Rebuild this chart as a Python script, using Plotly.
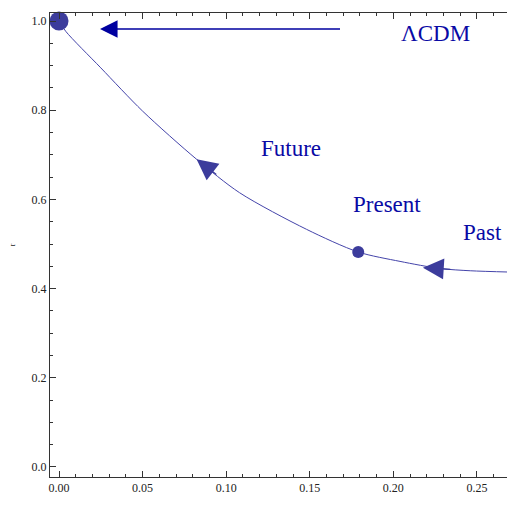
import plotly.graph_objects as go

# trajectory (s, r)
s_vals = [0.0, 0.004, 0.025, 0.05, 0.0823, 0.108, 0.148, 0.179, 0.204, 0.228, 0.246, 0.27]
r_vals = [1.0, 0.977, 0.895, 0.798, 0.690, 0.615, 0.533, 0.482, 0.461, 0.445, 0.440, 0.437]

# special points
lcdm_point = (0.0, 1.0)
present_point = (0.179, 0.482)

# arrow heads along trajectory: (tail_s, tail_r, head_s, head_r)
curve_arrows = [
    (0.095, 0.653, 0.0823, 0.690),
    (0.235, 0.443, 0.2177, 0.447),
]
lcdm_arrow = (0.169, 0.982, 0.0245, 0.982)

labels = [
    ("ΛCDM", 0.225, 0.971),
    ("Future", 0.139, 0.715),
    ("Present", 0.196, 0.589),
    ("Past", 0.2536, 0.526),
]

x_ticks = [0.0, 0.05, 0.10, 0.15, 0.20, 0.25]
y_ticks = [0.0, 0.2, 0.4, 0.6, 0.8, 1.0]

curve_color = "#4444aa"
text_color = "#0a0aa5"

fig = go.Figure()
fig.add_trace(go.Scatter(x=s_vals, y=r_vals, mode="lines",
                         line=dict(color=curve_color, width=1, shape="spline", smoothing=0.8),
                         hoverinfo="skip", showlegend=False))
fig.add_trace(go.Scatter(x=[lcdm_point[0]], y=[lcdm_point[1]], mode="markers",
                         marker=dict(size=19, color="#3c3c9c"), cliponaxis=False, showlegend=False))
fig.add_trace(go.Scatter(x=[present_point[0]], y=[present_point[1]], mode="markers",
                         marker=dict(size=12, color="#3c3c9c"), cliponaxis=False, showlegend=False))

for ts, tr, hs, hr in curve_arrows:
    fig.add_annotation(x=hs, y=hr, ax=ts, ay=tr, xref="x", yref="y", axref="x", ayref="y",
                       showarrow=True, arrowhead=2, arrowsize=3.2, arrowwidth=1.3,
                       arrowcolor="#3c3c9c", text="")
ts, tr, hs, hr = lcdm_arrow
fig.add_annotation(x=hs, y=hr, ax=ts, ay=tr, xref="x", yref="y", axref="x", ayref="y",
                   showarrow=True, arrowhead=2, arrowsize=2.2, arrowwidth=1.6,
                   arrowcolor="#0000a0", text="")

for txt, lx, ly in labels:
    fig.add_annotation(x=lx, y=ly, xref="x", yref="y", text=txt, showarrow=False,
                       font=dict(family="Liberation Serif", size=23, color=text_color))

fig.update_layout(
    width=507, height=521,
    margin=dict(l=50, r=0, t=13, b=37),
    plot_bgcolor="white", paper_bgcolor="white",
    font=dict(family="Liberation Serif", size=12, color="#222"),
)
fig.update_xaxes(range=[-0.0054, 0.268], tickvals=x_ticks, tickformat=".2f",
                 showline=True, linecolor="#333", linewidth=1, mirror="ticks",
                 ticks="inside", ticklen=6, tickcolor="#333", showgrid=False, zeroline=False,
                 minor=dict(dtick=0.01, ticks="inside", ticklen=3, tickcolor="#333"),
                 title=dict(text="s", font=dict(size=8), standoff=20))
fig.update_yaxes(range=[-0.0225, 1.018], tickvals=y_ticks, tickformat=".1f",
                 showline=True, linecolor="#333", linewidth=1, mirror=False,
                 ticks="inside", ticklen=6, tickcolor="#333", showgrid=False, zeroline=False,
                 minor=dict(dtick=0.05, ticks="inside", ticklen=3, tickcolor="#333"),
                 title=dict(text="r", font=dict(size=8), standoff=14))

fig.write_html("out.html", config={"displayModeBar": False, "responsive": False},
               post_script="document.body.style.margin='0';document.body.style.overflow='hidden';")
